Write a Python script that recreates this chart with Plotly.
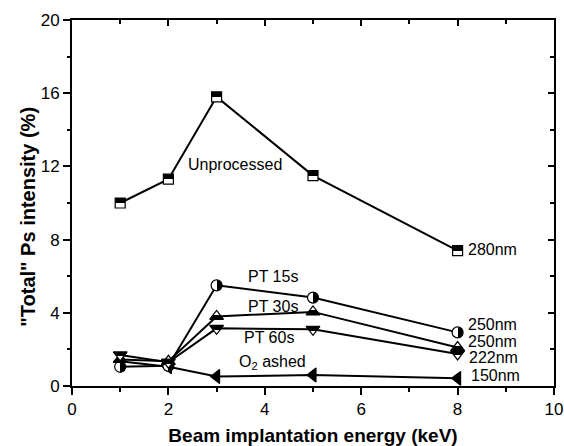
import plotly.graph_objects as go

energy = [1, 2, 3, 5, 8]
unprocessed = [10.0, 11.3, 15.8, 11.5, 7.4]
pt15 = [1.05, 1.1, 5.5, 4.83, 2.93]
pt30 = [1.45, 1.35, 3.8, 4.05, 2.1]
pt60 = [1.7, 1.3, 3.15, 3.1, 1.75]
o2_ashed = [1.35, 1.05, 0.52, 0.6, 0.42]

x_ticks = [0, 2, 4, 6, 8, 10]
y_ticks = [0, 4, 8, 12, 16, 20]

FONT = "Arial, Liberation Sans, sans-serif"

fig = go.Figure()

def add_series(y, symbol, size, grad_type, start_col, end_col):
    fig.add_trace(go.Scatter(
        x=energy, y=y, mode="lines+markers",
        line=dict(color="black", width=2),
        marker=dict(symbol=symbol, size=size, color=start_col,
                    gradient=dict(type=grad_type, color=end_col),
                    line=dict(color="black", width=1.2)),
        showlegend=False, hoverinfo="x+y",
    ))

add_series(unprocessed, "square", 10, "vertical", "black", "white")
add_series(o2_ashed, "triangle-left", 12, "none", "black", "black")
add_series(pt15, "circle", 11, "horizontal", "white", "black")
add_series(pt30, "triangle-up", 12, "vertical", "white", "black")
add_series(pt60, "triangle-down", 12, "vertical", "black", "white")

ann_font = dict(family=FONT, size=16, color="black")
labels = [
    ("Unprocessed", 3.38, 12.08, "center"),
    ("280nm", 8.17, 7.47, "left"),
    ("PT 15s", 4.17, 5.97, "center"),
    ("PT 30s", 4.18, 4.37, "center"),
    ("PT 60s", 4.09, 2.66, "center"),
    ("O<sub>2</sub> ashed", 4.17, 1.28, "center"),
    ("250nm", 8.17, 3.36, "left"),
    ("250nm", 8.17, 2.44, "left"),
    ("222nm", 8.2, 1.55, "left"),
    ("150nm", 8.24, 0.55, "left"),
]
for text, ax_, ay_, anchor in labels:
    fig.add_annotation(x=ax_, y=ay_, text=text, showarrow=False,
                       xanchor=anchor, yanchor="middle", font=ann_font)

# y-axis title as annotation
fig.add_annotation(xref="paper", yref="paper", x=0, y=0.4626, xshift=-44,
                   text="<b>\"Total\" Ps intensity (%)</b>", textangle=-90,
                   showarrow=False, xanchor="center", yanchor="middle",
                   font=dict(family=FONT, size=20, color="black"))

common = dict(showgrid=False, zeroline=False, showline=True, linewidth=2,
              linecolor="black", automargin=False)

fig.update_layout(
    width=564, height=446,
    margin=dict(l=72, r=10, t=20, b=60),
    paper_bgcolor="white", plot_bgcolor="white",
    font=dict(family=FONT, size=17, color="black"),
    xaxis=dict(range=[0, 10], tickvals=x_ticks, ticktext=[str(v) for v in x_ticks],
               ticks="outside", ticklen=7, tickwidth=1.5, tickcolor="black",
               minor=dict(dtick=1, tick0=0, ticks="outside", ticklen=4, tickwidth=1.5, tickcolor="black"),
               title=dict(text="<b>Beam implantation energy (keV)</b>",
                          font=dict(family=FONT, size=19), standoff=14),
               tickfont=dict(family=FONT, size=17), **common),
    yaxis=dict(range=[0, 20], tickvals=y_ticks, ticktext=[str(v) for v in y_ticks],
               ticks="outside", ticklen=7, tickwidth=1.5, tickcolor="black",
               minor=dict(dtick=2, tick0=0, ticks="outside", ticklen=3, tickwidth=1.5, tickcolor="black"),
               tickfont=dict(family=FONT, size=17), **common),
    xaxis2=dict(range=[0, 10], overlaying="x", side="top", anchor="y",
                tickvals=x_ticks, showticklabels=False,
                ticks="inside", ticklen=6, tickwidth=1.5, tickcolor="black",
                minor=dict(dtick=1, tick0=0, ticks="inside", ticklen=4, tickwidth=1.5, tickcolor="black"),
                **common),
    yaxis2=dict(range=[0, 20], overlaying="y", side="right", anchor="x",
                tickvals=y_ticks, showticklabels=False,
                ticks="inside", ticklen=6, tickwidth=1.5, tickcolor="black",
                minor=dict(dtick=2, tick0=0, ticks="inside", ticklen=4, tickwidth=1.5, tickcolor="black"),
                **common),
)

# invisible trace to ensure secondary axes are drawn
fig.add_trace(go.Scatter(x=[0], y=[0], xaxis="x2", yaxis="y2", mode="markers",
                         marker=dict(opacity=0), showlegend=False, hoverinfo="skip"))

# remove page margin; make the marker gradients a sharp half-and-half fill
post_js = """
document.body.style.margin = '0';
document.body.style.padding = '0';
var gd = document.getElementById('{plot_id}');
function sharpen() {
  var grads = document.querySelectorAll('linearGradient');
  grads.forEach(function(g) {
    if (g.getAttribute('data-sharp')) return;
    var stops = Array.prototype.slice.call(g.querySelectorAll('stop'));
    if (stops.length !== 2) return;
    stops.sort(function(a, b) { return parseFloat(a.getAttribute('offset')) - parseFloat(b.getAttribute('offset')); });
    var s0 = stops[0], s1 = stops[1];
    var a = s0.cloneNode(); a.setAttribute('offset', '50%');
    var b = s1.cloneNode(); b.setAttribute('offset', '50%');
    g.insertBefore(a, s1); g.insertBefore(b, s1);
    g.setAttribute('data-sharp', '1');
  });
}
sharpen();
if (gd && gd.on) { gd.on('plotly_afterplot', sharpen); }
setTimeout(sharpen, 50); setTimeout(sharpen, 300);
"""

fig.write_html("out.html", post_script=post_js, config={"displayModeBar": False})
